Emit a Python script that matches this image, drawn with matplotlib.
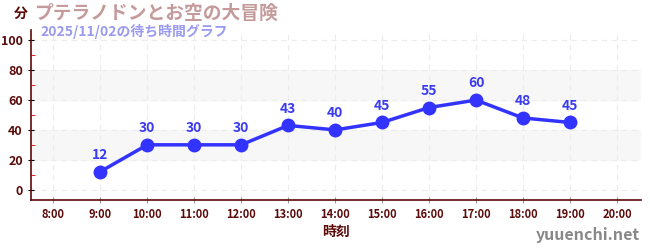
import matplotlib.pyplot as plt
from matplotlib.ticker import MultipleLocator

plt.rcParams['font.family'] = ['Noto Sans CJK JP', 'DejaVu Sans']

# data
hours = [9, 10, 11, 12, 13, 14, 15, 16, 17, 18, 19]
waits = [12, 30, 30, 30, 43, 40, 45, 55, 60, 48, 45]
tick_hours = list(range(8, 21))
tick_labels = ['%d:00' % h for h in tick_hours]

dark = '#5c0a0a'
blue = '#3333ff'

fig = plt.figure(figsize=(6.5, 2.5), dpi=100)
ax = fig.add_axes([0.048, 0.2, 0.938, 0.68])

# light bands
for lo, hi in [(20, 40), (60, 80)]:
    ax.axhspan(lo, hi, color='#f7f7f7', zorder=0)

ax.plot(hours, waits, color=blue, lw=2.5, marker='o', ms=9, zorder=3)
for h, w in zip(hours, waits):
    ax.annotate(str(w), (h, w), xytext=(0, 7), textcoords='offset points',
                ha='center', va='bottom', color='#3a3af0', fontsize=10, fontweight='bold')

ax.set_xlim(7.53, 20.51)
ax.set_ylim(-7, 107)
ax.set_xticks(tick_hours)
ax.set_xticklabels(tick_labels)
ax.set_yticks(range(0, 101, 20))
ax.yaxis.set_minor_locator(MultipleLocator(10))
ax.grid(True, which='major', color='#ececec', linestyle=(0, (5, 4)), lw=0.8)

for s in ['top', 'right']:
    ax.spines[s].set_visible(False)
for s in ['left', 'bottom']:
    ax.spines[s].set_color(dark)
    ax.spines[s].set_linewidth(1.2)

ax.tick_params(axis='y', which='major', colors='black', labelcolor=dark, length=5, direction='inout', labelsize=9)
ax.tick_params(axis='y', which='minor', colors='#dd0000', length=3, direction='in')
ax.tick_params(axis='x', colors='#999999', labelcolor=dark, length=4, direction='inout', labelsize=8)
for t in ax.get_xticklabels() + ax.get_yticklabels():
    t.set_fontweight('bold')

ax.set_xlabel('時刻', color=dark, fontsize=10, fontweight='bold', labelpad=3)

fig.text(0.022, 0.945, '分', color=dark, fontsize=10, fontweight='bold', va='center')
fig.text(0.052, 0.945, 'プテラノドンとお空の大冒険', color='#c49a9a', fontsize=13.5,
         fontweight='bold', va='center')
fig.text(0.062, 0.875, '2025/11/02の待ち時間グラフ', color='#9a9af0', fontsize=10,
         fontweight='bold', va='center')
fig.text(0.985, 0.06, 'yuuenchi.net', color='#888888', fontsize=11.5,
         fontweight='bold', ha='right', va='center')

fig.savefig('out.png', dpi=100)
